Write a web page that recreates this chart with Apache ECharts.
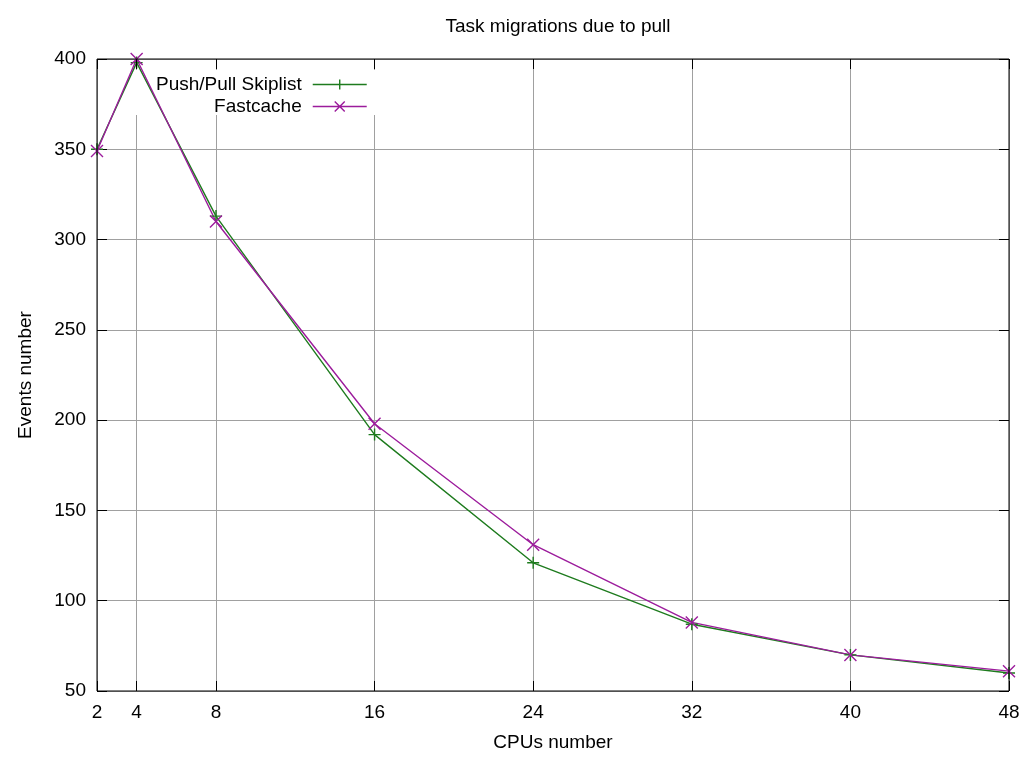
<!DOCTYPE html>
<html><head><meta charset="utf-8">
<script src="https://cdn.jsdelivr.net/npm/echarts@6/dist/echarts.min.js"></script>
<style>html,body{margin:0;padding:0;background:#fff}#c{width:1024px;height:762px}</style>
</head><body><div id="c"></div>
<script>
const cpus = [2, 4, 8, 16, 24, 32, 40, 48];
const xTicks = [2, 4, 8, 16, 24, 32, 40, 48];
const pushPull = [350, 398, 313, 192, 121, 87, 70, 60];
const fastcache = [349, 400, 310, 198, 131, 88, 70, 61];
const seriesNames = ['Push/Pull Skiplist', 'Fastcache'];
const colors = ['#1e7b1e', '#9c1c9c'];

const FONT = 'Liberation Sans, Arial, sans-serif';
const FS = 19;
const plusPath = 'path://M0,5L10,5M5,0L5,10';
const crossPath = 'path://M0,0L10,10M0,10L10,0';
const legPlus = 'path://M0,5L54,5M27,0L27,10';
const legCross = 'path://M0,5L54,5M22,0L32,10M22,10L32,0';

const chart = echarts.init(document.getElementById('c'), null, {renderer: 'canvas'});
const grid = {left: 97, right: 15, top: 59, bottom: 71, show: true, borderColor: '#000', borderWidth: 1, backgroundColor: 'transparent', z: 4};
function mk(name, data, color, sym) {
  return {
    name: name, type: 'line', xAxisIndex: 0, yAxisIndex: 0,
    data: cpus.map((c, i) => [c, data[i]]),
    symbol: sym, symbolSize: 12, showSymbol: true,
    lineStyle: {color: color, width: 1.4},
    itemStyle: {color: 'transparent', borderColor: color, borderWidth: 1.4},
    emphasis: {disabled: true}, animation: false, z: 2
  };
}
chart.setOption({
  animation: false,
  title: {text: 'Task migrations due to pull', left: 553, top: 12, textAlign: 'center',
    textStyle: {fontFamily: FONT, fontSize: FS, fontWeight: 'normal', color: '#000'}},
  grid: grid,
  legend: {
    orient: 'vertical', left: 151, top: 70, itemGap: 3, itemWidth: 54, itemHeight: 10,
    align: 'right', selectedMode: false, z: 5,
    textStyle: {fontFamily: FONT, fontSize: FS, color: '#000', width: 155, align: 'right', padding: [0, 6, 0, 0]},
    data: [
      {name: seriesNames[0], icon: legPlus, itemStyle: {color: 'transparent', borderColor: colors[0], borderWidth: 1.4}},
      {name: seriesNames[1], icon: legCross, itemStyle: {color: 'transparent', borderColor: colors[1], borderWidth: 1.4}}
    ]
  },
  graphic: [{type: 'rect', z: 1, silent: true, shape: {x: 98, y: 70, width: 290, height: 45}, style: {fill: '#fff'}}],
  xAxis: [
    {type: 'value', min: 2, max: 48, position: 'bottom', z: 0,
      name: 'CPUs number', nameLocation: 'middle', nameGap: 42,
      nameTextStyle: {fontFamily: FONT, fontSize: FS, color: '#000'},
      axisLine: {show: false},
      axisTick: {inside: true, length: 10, customValues: xTicks, lineStyle: {color: '#000'}},
      axisLabel: {customValues: xTicks, fontFamily: FONT, fontSize: FS, color: '#000', margin: 12},
      splitLine: {show: true, lineStyle: {color: '#a0a0a0', width: 1}}},
    {type: 'value', min: 2, max: 48, position: 'top', z: 3,
      axisLine: {show: false},
      axisTick: {inside: true, length: 10, customValues: xTicks, lineStyle: {color: '#000'}},
      axisLabel: {show: false, customValues: xTicks}, splitLine: {show: false}}
  ],
  yAxis: [
    {type: 'value', min: 50, max: 400, interval: 50, position: 'left', z: 0,
      name: 'Events number', nameLocation: 'middle', nameGap: 62, nameRotate: 90,
      nameTextStyle: {fontFamily: FONT, fontSize: FS, color: '#000'},
      axisLine: {show: false},
      axisTick: {inside: true, length: 10, lineStyle: {color: '#000'}},
      axisLabel: {fontFamily: FONT, fontSize: FS, color: '#000', margin: 11},
      splitLine: {show: true, lineStyle: {color: '#a0a0a0', width: 1}}},
    {type: 'value', min: 50, max: 400, interval: 50, position: 'right', z: 3,
      axisLine: {show: false},
      axisTick: {inside: true, length: 10, lineStyle: {color: '#000'}},
      axisLabel: {show: false}, splitLine: {show: false}}
  ],
  series: [
    mk(seriesNames[0], pushPull, colors[0], plusPath),
    mk(seriesNames[1], fastcache, colors[1], crossPath)
  ]
});
</script></body></html>
